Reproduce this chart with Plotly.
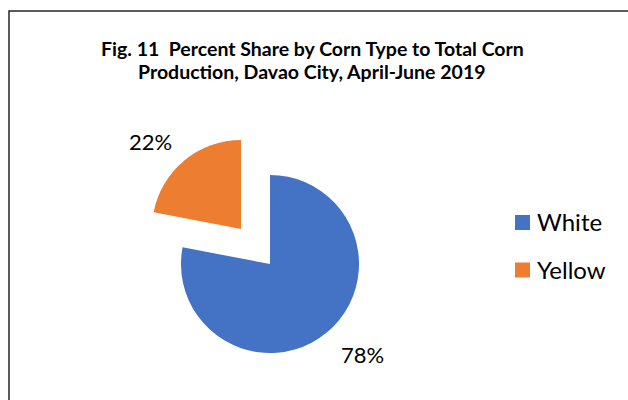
import plotly.graph_objects as go

# ---- data ----
corn_types = ["White", "Yellow"]
percent_share = [78, 22]
slice_colors = ["#4472C4", "#ED7D31"]
title_lines = ["Fig. 11  Percent Share by Corn Type to Total Corn",
               "Production, Davao City, April-June 2019"]

W, H = 628, 400
FONT = "Lato, 'Open Sans', sans-serif"

def px(x):
    return x / W

def py(y):
    return 1 - y / H

fig = go.Figure()
fig.add_trace(go.Pie(
    labels=corn_types,
    values=percent_share,
    marker=dict(colors=slice_colors, line=dict(width=0)),
    sort=False,
    direction="clockwise",
    rotation=0,
    pull=[0, 0.51],
    textinfo="none",
    hoverinfo="label+percent",
    showlegend=False,
    domain=dict(x=[px(120), px(420)], y=[py(398.4), py(129.6)]),
))

annotations = []
# title lines
annotations.append(dict(text="<b>" + title_lines[0] + "</b>", x=px(312), y=py(48),
                        xref="paper", yref="paper", showarrow=False,
                        xanchor="center", yanchor="middle",
                        font=dict(family=FONT, size=19.5, color="#000000")))
annotations.append(dict(text="<b>" + title_lines[1] + "</b>", x=px(312), y=py(72),
                        xref="paper", yref="paper", showarrow=False,
                        xanchor="center", yanchor="middle",
                        font=dict(family=FONT, size=19.5, color="#000000")))

# percent labels
label_pos = [(362, 354), (150, 141)]
for v, (lx, ly) in zip(percent_share, label_pos):
    annotations.append(dict(text=f"{v}%", x=px(lx), y=py(ly), xref="paper", yref="paper",
                            showarrow=False, xanchor="center", yanchor="middle",
                            font=dict(family=FONT, size=22, color="#000000")))

# manual legend
shapes = []
legend_rows = [222.5, 270]
for name, col, ry in zip(corn_types, slice_colors, legend_rows):
    shapes.append(dict(type="rect", xref="paper", yref="paper",
                       x0=px(515), x1=px(530), y0=py(ry + 7.5), y1=py(ry - 7.5),
                       fillcolor=col, line=dict(width=0)))
    annotations.append(dict(text=name, x=px(535), y=py(ry - 1), xref="paper", yref="paper",
                            showarrow=False, xanchor="left", yanchor="middle",
                            font=dict(family=FONT, size=24, color="#000000")))

# chart border (extends beyond the visible area on right and bottom)
shapes.append(dict(type="rect", xref="paper", yref="paper",
                   x0=px(9), x1=px(640), y0=py(420), y1=py(11),
                   line=dict(color="#262626", width=1.5), fillcolor="rgba(0,0,0,0)"))

fig.update_layout(
    width=W, height=H,
    margin=dict(l=0, r=0, t=0, b=0),
    paper_bgcolor="white",
    plot_bgcolor="white",
    annotations=annotations,
    shapes=shapes,
    showlegend=False,
)

fig.write_html("out.html", config={"displayModeBar": False},
               post_script="document.body.style.margin='0';")
